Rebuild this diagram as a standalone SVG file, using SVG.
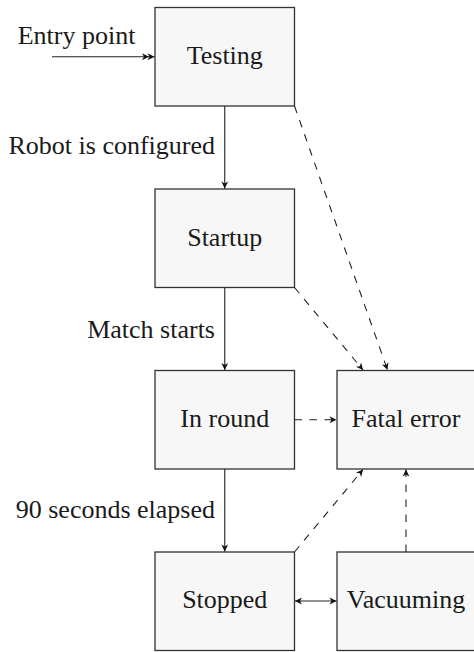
<svg xmlns="http://www.w3.org/2000/svg" width="474" height="652" viewBox="0 0 474 652">
  <style>
    .box { fill: #f7f7f7; stroke: #333; stroke-width: 1.3; }
    .lbl { font-size: 26px; fill: #1a1a1a; }
    .mid { text-anchor: middle; }
    .end { text-anchor: end; }
    .edge { fill: none; stroke: #222; stroke-width: 1.1; }
    .dash { stroke-dasharray: 7.5 7.5; }
  </style>
  <defs>
    <marker id="head" markerUnits="userSpaceOnUse" markerWidth="10" markerHeight="10" refX="0" refY="0" orient="auto" overflow="visible">
      <path d="M0,0 L-7,-3.4 L-5,0 L-7,3.4 Z" fill="#111"/>
    </marker>
    <marker id="tail" markerUnits="userSpaceOnUse" markerWidth="10" markerHeight="10" refX="0" refY="0" orient="auto-start-reverse" overflow="visible">
      <path d="M0,0 L-7,-3.4 L-5,0 L-7,3.4 Z" fill="#111"/>
    </marker>
    <marker id="double" markerUnits="userSpaceOnUse" markerWidth="16" markerHeight="10" refX="0" refY="0" orient="auto" overflow="visible">
      <path d="M0,0 L-7,-3.4 L-5,0 L-7,3.4 Z M-5.5,0 L-12.5,-3.4 L-10.5,0 L-12.5,3.4 Z" fill="#111"/>
    </marker>
  </defs>

  <g font-family="'Liberation Serif', 'DejaVu Serif', serif">
    <g id="testing">
      <rect class="box" x="155" y="7.5" width="139.5" height="98.5"/>
      <text class="lbl mid" x="224.75" y="64">Testing</text>
    </g>
    <g id="startup">
      <rect class="box" x="155" y="189" width="139.5" height="98.5"/>
      <text class="lbl mid" x="224.75" y="245.5">Startup</text>
    </g>
    <g id="in-round">
      <rect class="box" x="155" y="370.5" width="139.5" height="98.5"/>
      <text class="lbl mid" x="224.75" y="427">In round</text>
    </g>
    <g id="fatal-error">
      <rect class="box" x="337" y="370.5" width="139.5" height="98.5"/>
      <text class="lbl mid" x="406" y="427">Fatal error</text>
    </g>
    <g id="stopped">
      <rect class="box" x="155" y="552" width="139.5" height="98.5"/>
      <text class="lbl mid" x="224.75" y="607.5">Stopped</text>
    </g>
    <g id="vacuuming">
      <rect class="box" x="337" y="552" width="139.5" height="98.5"/>
      <text class="lbl mid" x="406" y="607.5">Vacuuming</text>
    </g>

    <g id="connectors">
      <!-- entry into the first state -->
      <line class="edge" x1="52" y1="56.75" x2="154.5" y2="56.75" marker-end="url(#double)"/>
      <text class="lbl mid" x="76.5" y="43.5">Entry point</text>

      <!-- normal flow down the left column -->
      <line class="edge" x1="224.75" y1="106" x2="224.75" y2="188.5" marker-end="url(#head)"/>
      <text class="lbl end" x="215" y="154">Robot is configured</text>
      <line class="edge" x1="224.75" y1="287.5" x2="224.75" y2="370" marker-end="url(#head)"/>
      <text class="lbl end" x="215" y="338">Match starts</text>
      <line class="edge" x1="224.75" y1="469" x2="224.75" y2="551.5" marker-end="url(#head)"/>
      <text class="lbl end" x="215" y="517.5">90 seconds elapsed</text>

      <!-- failure transitions -->
      <line class="edge dash" x1="294.5" y1="106" x2="387.5" y2="370" marker-end="url(#head)"/>
      <line class="edge dash" x1="294.5" y1="287.5" x2="363" y2="370" marker-end="url(#head)"/>
      <line class="edge dash" x1="294.5" y1="419.75" x2="336.5" y2="419.75" marker-end="url(#head)"/>
      <line class="edge dash" x1="294.5" y1="552" x2="363" y2="469.5" marker-end="url(#head)"/>
      <line class="edge dash" x1="406" y1="552" x2="406" y2="469.5" marker-end="url(#head)"/>

      <!-- stopped / vacuuming toggle -->
      <line class="edge" x1="295" y1="601" x2="336.5" y2="601" marker-start="url(#tail)" marker-end="url(#head)"/>
    </g>
  </g>
</svg>
